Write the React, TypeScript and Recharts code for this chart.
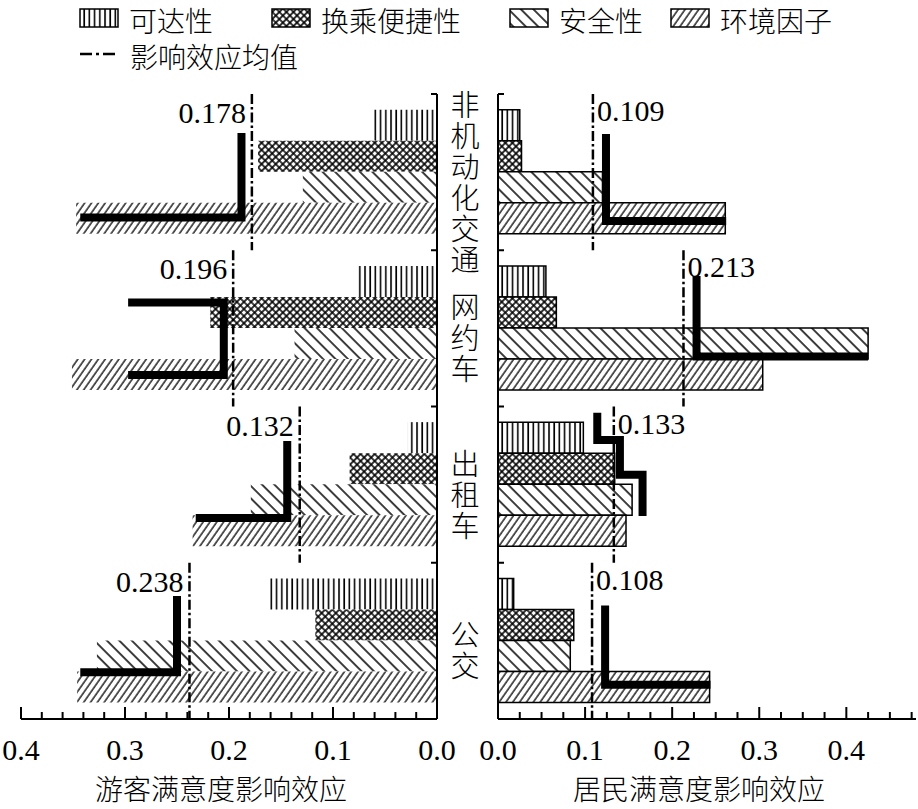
import React from 'react';
import { ComposedChart, Bar, Line, XAxis, YAxis, ReferenceLine } from 'recharts';

const categories = ['非机动化交通', '网约车', '出租车', '公交'];
const seriesNames = ['可达性', '换乘便捷性', '安全性', '环境因子'];
const meanLegendName = '影响效应均值';
const touristTitle = '游客满意度影响效应';
const residentTitle = '居民满意度影响效应';

const touristAccess = [0.061, 0.076, 0.028, 0.161];
const touristTransfer = [0.172, 0.218, 0.084, 0.117];
const touristSafety = [0.129, 0.137, 0.179, 0.327];
const touristEnv = [0.347, 0.351, 0.235, 0.346];
const touristMean = [0.178, 0.196, 0.132, 0.238];

const residentAccess = [0.025, 0.055, 0.098, 0.018];
const residentTransfer = [0.027, 0.067, 0.134, 0.087];
const residentSafety = [0.12, 0.425, 0.154, 0.083];
const residentEnv = [0.261, 0.304, 0.147, 0.243];
const residentMean = [0.109, 0.213, 0.133, 0.108];

const touristTicks = [0, 0.02, 0.04, 0.06, 0.08, 0.1, 0.12, 0.14, 0.16, 0.18, 0.2, 0.22, 0.24, 0.26, 0.28, 0.3, 0.32, 0.34, 0.36, 0.38, 0.4];
const residentTicks = [0, 0.025, 0.05, 0.075, 0.1, 0.125, 0.15, 0.175, 0.2, 0.225, 0.25, 0.275, 0.3, 0.325, 0.35, 0.375, 0.4, 0.425, 0.45, 0.475];
const bandTicks = [0, 5, 10, 15, 20];

// thick step lines: v = effect value, s = position in slot units (each category band = 5 slots)
const touristSteps = [
  [{ v: 0.343, s: 3.95 }, { v: 0.188, s: 3.95 }, { v: 0.188, s: 1.25 }],
  [{ v: 0.297, s: 6.67 }, { v: 0.205, s: 6.67 }, { v: 0.205, s: 8.99 }, { v: 0.297, s: 8.99 }],
  [{ v: 0.232, s: 13.57 }, { v: 0.144, s: 13.57 }, { v: 0.144, s: 11.1 }],
  [{ v: 0.343, s: 18.5 }, { v: 0.25, s: 18.5 }, { v: 0.25, s: 16.06 }],
];
const residentSteps = [
  [{ v: 0.124, s: 1.28 }, { v: 0.124, s: 4.06 }, { v: 0.262, s: 4.06 }],
  [{ v: 0.228, s: 5.82 }, { v: 0.228, s: 8.4 }, { v: 0.425, s: 8.4 }],
  [{ v: 0.114, s: 10.2 }, { v: 0.114, s: 11.07 }, { v: 0.14, s: 11.07 }, { v: 0.14, s: 12.18 }, { v: 0.166, s: 12.18 }, { v: 0.166, s: 13.5 }],
  [{ v: 0.123, s: 16.37 }, { v: 0.123, s: 18.9 }, { v: 0.244, s: 18.9 }],
];

const seriesKeys = ['access', 'transfer', 'safety', 'env'];
const patternIds = ['vl', 'cx', 'bs', 'fs'];

const touristData = categories.map((name, i) => ({
  name,
  access: touristAccess[i],
  transfer: touristTransfer[i],
  safety: touristSafety[i],
  env: touristEnv[i],
}));
const residentData = categories.map((name, i) => ({
  name,
  access: residentAccess[i],
  transfer: residentTransfer[i],
  safety: residentSafety[i],
  env: residentEnv[i],
}));

const NUM_FONT = "'Liberation Serif', 'Times New Roman', serif";
const CJK_FONT = "'Noto Sans CJK SC', sans-serif";
const numStyle = { fontFamily: NUM_FONT, fontSize: 30 };
const cjkStyle = { fontFamily: CJK_FONT, fontSize: 28, fontWeight: 300 };

function PatternDefs({ prefix }: { prefix: string }) {
  return (
    <defs>
      <pattern id={`${prefix}-vl`} patternUnits="userSpaceOnUse" width="5.2" height="10">
        <rect width="5.2" height="10" fill="#fff" />
        <line x1="1" y1="0" x2="1" y2="10" stroke="#000" strokeWidth="1.6" />
      </pattern>
      <pattern id={`${prefix}-cx`} patternUnits="userSpaceOnUse" width="5" height="5" patternTransform="rotate(45)">
        <rect width="5" height="5" fill="#fff" />
        <path d="M1,0V5M0,1H5" stroke="#000" strokeWidth="1.6" />
      </pattern>
      <pattern id={`${prefix}-bs`} patternUnits="userSpaceOnUse" width="8.8" height="10" patternTransform="rotate(-45)">
        <rect width="8.8" height="10" fill="#fff" />
        <line x1="1" y1="0" x2="1" y2="10" stroke="#000" strokeWidth="1.5" />
      </pattern>
      <pattern id={`${prefix}-fs`} patternUnits="userSpaceOnUse" width="5.6" height="10" patternTransform="rotate(35)">
        <rect width="5.6" height="10" fill="#fff" />
        <line x1="1" y1="0" x2="1" y2="10" stroke="#000" strokeWidth="1.3" />
      </pattern>
    </defs>
  );
}

const XTick = (props: any) => {
  const { x, y, payload } = props;
  const v = Number(payload.value);
  const major = Math.abs(v * 10 - Math.round(v * 10)) < 1e-6;
  return (
    <g>
      <line x1={x} x2={x} y1={y} y2={y - (major ? 12 : 7)} stroke="#000" strokeWidth={2} />
      {major && (
        <text x={x} y={y + 41} textAnchor="middle" style={numStyle} fill="#000">
          {v.toFixed(1)}
        </text>
      )}
    </g>
  );
};

const CatTick = (props: any) => {
  const { y, payload } = props;
  return (
    <text
      x={465}
      y={y + 11}
      textAnchor="middle"
      style={{ ...cjkStyle, fontSize: 29, writingMode: 'vertical-rl', letterSpacing: 2 } as any}
      fill="#000"
    >
      {String(payload.value)}
    </text>
  );
};

const MeanLabel = (props: any) => {
  const { viewBox, text, side } = props;
  if (!viewBox) return null;
  const isLeft = side === 'left';
  const x = isLeft ? viewBox.x - 6 : viewBox.x + 4;
  return (
    <text x={x} y={viewBox.y + (isLeft ? 29 : 27)} textAnchor={isLeft ? 'end' : 'start'} style={numStyle} fill="#000">
      {text}
    </text>
  );
};

const AxisTitle = (props: any) => {
  const { viewBox, text } = props;
  if (!viewBox) return null;
  return (
    <text x={viewBox.x + viewBox.width / 2 - 8} y={viewBox.y + 69} textAnchor="middle" dominantBaseline="central" style={cjkStyle} fill="#000">
      {text}
    </text>
  );
};

function Panel(p: {
  side: 'left' | 'right';
  data: any[];
  mean: number[];
  steps: { v: number; s: number }[][];
  ticks: number[];
  domain: [number, number];
  title: string;
  width: number;
  margin: { top: number; right: number; bottom: number; left: number };
  prefix: string;
}) {
  const isLeft = p.side === 'left';
  return (
    <ComposedChart width={p.width} height={809} data={p.data} layout="vertical" margin={p.margin} barCategoryGap="10%" barGap={0}>
      <PatternDefs prefix={p.prefix} />
      <XAxis
        type="number"
        domain={p.domain}
        reversed={isLeft}
        ticks={p.ticks}
        interval={0}
        tickLine={false}
        tickSize={0}
        tickMargin={0}
        height={30}
        allowDataOverflow
        axisLine={{ stroke: '#000', strokeWidth: 2 }}
        tick={XTick}
        label={<AxisTitle text={p.title} />}
      />
      <YAxis
        yAxisId="cat"
        type="category"
        dataKey="name"
        orientation={isLeft ? 'right' : 'left'}
        hide={!isLeft}
        width={1}
        axisLine={false}
        tickLine={false}
        tickSize={0}
        tickMargin={0}
        interval={0}
        tick={CatTick}
      />
      <YAxis
        yAxisId="slot"
        type="number"
        dataKey="s"
        domain={[0, 20]}
        ticks={bandTicks}
        interval={0}
        orientation={isLeft ? 'right' : 'left'}
        mirror
        width={1}
        tickSize={6}
        allowDataOverflow
        tickLine={{ stroke: '#000', strokeWidth: 2 }}
        axisLine={{ stroke: '#000', strokeWidth: 2 }}
        tickFormatter={() => ''}
      />
      {seriesKeys.map((k, j) => (
        <Bar
          key={k}
          yAxisId="cat"
          dataKey={k}
          name={seriesNames[j]}
          fill={`url(#${p.prefix}-${patternIds[j]})`}
          stroke={isLeft ? 'none' : '#000'}
          strokeWidth={isLeft ? 0 : 1.5}
          isAnimationActive={false}
        />
      ))}
      {p.steps.map((pts, i) => (
        <Line
          key={'step' + i}
          yAxisId="slot"
          data={pts}
          dataKey="v"
          type="linear"
          stroke="#000"
          strokeWidth={8}
          strokeLinejoin="miter"
          strokeLinecap="butt"
          dot={false}
          activeDot={false}
          legendType="none"
          isAnimationActive={false}
        />
      ))}
      {p.mean.map((m, i) => (
        <ReferenceLine
          key={'mean' + i}
          yAxisId="slot"
          segment={[{ x: m, y: i * 5 }, { x: m, y: i * 5 + 5 }]}
          stroke="#000"
          strokeWidth={2.5}
          strokeDasharray="10 3 2.5 3"
          label={<MeanLabel text={m.toFixed(3)} side={p.side} />}
        />
      ))}
    </ComposedChart>
  );
}

function LegendBlock() {
  const legendX = [80, 272, 510, 671];
  return (
    <svg width={918} height={75} style={{ position: 'absolute', left: 0, top: 0 }}>
      <PatternDefs prefix="lg" />
      {seriesNames.map((n, j) => (
        <g key={n}>
          <rect x={legendX[j]} y={9} width={38} height={18} fill={`url(#lg-${patternIds[j]})`} stroke="#000" strokeWidth={1.5} />
          <text x={legendX[j] + 49} y={20} dominantBaseline="central" style={cjkStyle} fill="#000">
            {n}
          </text>
        </g>
      ))}
      <line x1={80} x2={117} y1={54} y2={54} stroke="#000" strokeWidth={2.5} strokeDasharray="12 4 3 4" />
      <text x={130} y={56} dominantBaseline="central" style={cjkStyle} fill="#000">
        {meanLegendName}
      </text>
    </svg>
  );
}

export default function App() {
  return (
    <div style={{ position: 'absolute', left: 0, top: 0, width: 918, height: 809, background: '#fff', overflow: 'hidden' }}>
      <div style={{ position: 'absolute', left: 0, top: 0 }}>
        <Panel
          side="left"
          data={touristData}
          mean={touristMean}
          steps={touristSteps}
          ticks={touristTicks}
          domain={[0, 0.4]}
          title={touristTitle}
          width={490}
          margin={{ top: 94, right: 52, bottom: 60, left: 21 }}
          prefix="tl"
        />
      </div>
      <div style={{ position: 'absolute', left: 470, top: 0 }}>
        <Panel
          side="right"
          data={residentData}
          mean={residentMean}
          steps={residentSteps}
          ticks={residentTicks}
          domain={[0, 0.48]}
          title={residentTitle}
          width={448}
          margin={{ top: 94, right: 2, bottom: 60, left: 28 }}
          prefix="rs"
        />
      </div>
      <LegendBlock />
    </div>
  );
}
